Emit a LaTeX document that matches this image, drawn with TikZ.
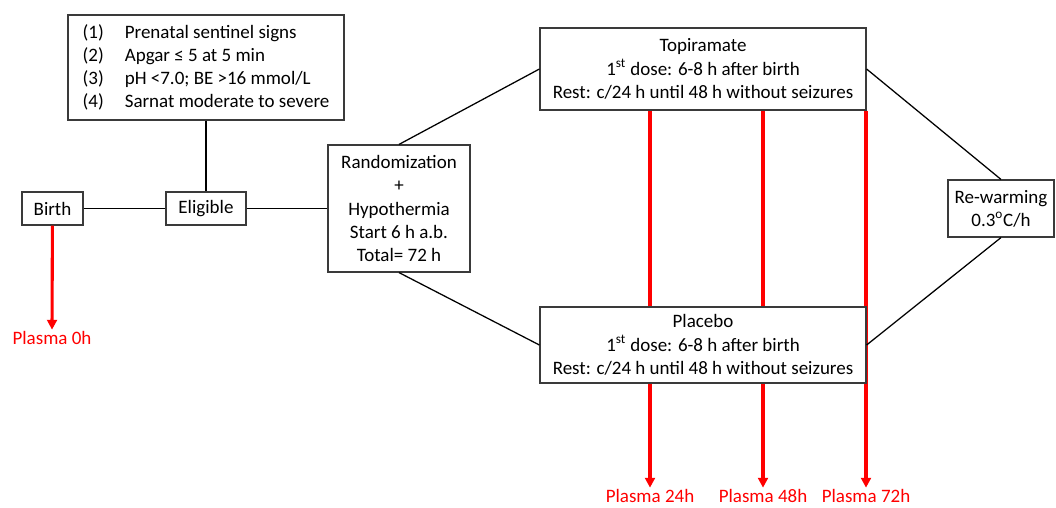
\documentclass[tikz,border=0pt]{standalone}
\usepackage{fontspec}
\setmainfont{Carlito}
\usepackage{tikz}
\usetikzlibrary{arrows.meta, positioning, calc, backgrounds}
\usepackage{xcolor}
\definecolor{boxgray}{HTML}{3A3A3A}
\definecolor{plasmared}{HTML}{FF0000}

\begin{document}
\begin{tikzpicture}[
    x=0.025cm, y=-0.025cm,
    every node/.style={font=\fontsize{13.5}{16.5}\selectfont},
    box/.style={draw=boxgray, fill=white, line width=0.8pt, align=center,
                inner sep=0pt},
    link/.style={line width=0.9pt},
    redarr/.style={-{Triangle[length=7pt, width=7pt]}, plasmared,
                   line width=2.2pt},
    plasma/.style={text=plasmared, inner sep=1pt}
  ]
    \useasboundingbox (0,0) rectangle (1056,507);
    % boxes
    \node[box, minimum width=6.9cm, minimum height=2.625cm, align=left] (crit) at (206,67.5)
      {\fontsize{13.5}{17}\selectfont
       \makebox[30pt][l]{(1)}Prenatal sentinel signs\\
       \makebox[30pt][l]{(2)}Apgar ≤ 5 at 5 min\\
       \makebox[30pt][l]{(3)}pH <7.0; BE >16 mmol/L\\
       \makebox[30pt][l]{(4)}Sarnat moderate to severe};
    \node[box, minimum width=1.525cm, minimum height=0.825cm] (birth) at (52.5,208.5) {Birth};
    \node[box, minimum width=2.0cm, minimum height=0.825cm] (elig) at (206,208.5) {Eligible};
    \node[box, minimum width=3.55cm, minimum height=3.175cm] (rand) at (399,208.5)
      {Randomization\\+\\Hypothermia\\Start 6 h a.b.\\Total= 72 h};
    \node[box, minimum width=8.15cm, minimum height=2.05cm] (topi) at (703,69)
      {Topiramate\\1\textsuperscript{st} dose: 6-8 h after birth\\Rest: c/24 h until 48 h without seizures};
    \node[box, minimum width=8.15cm, minimum height=1.9cm] (plac) at (703,345)
      {Placebo\\1\textsuperscript{st} dose: 6-8 h after birth\\Rest: c/24 h until 48 h without seizures};
    \node[box, minimum width=2.65cm, minimum height=1.425cm] (rewarm) at (1001,208.5)
      {Re-warming\\0.3\textsuperscript{o}C/h};
    % plasma samples
    \node[plasma] (p0) at (52,338) {Plasma 0h};
    \node[plasma] (p24) at (650,496) {Plasma 24h};
    \node[plasma] (p48) at (763,496) {Plasma 48h};
    \node[plasma] (p72) at (866,496) {Plasma 72h};
    % connections
    \draw[link] (crit) -- (elig);
    \draw[link] (birth) -- (elig);
    \draw[link] (elig) -- (elig -| rand.west);
    \draw[link] (rand.north) -- (topi.west);
    \draw[link] (rand.south) -- (plac.west);
    \draw[link] (topi.east) -- (rewarm.north);
    \draw[link] (plac.east) -- (rewarm.south);
    \draw[redarr] (birth) -- (p0.north);
    \begin{scope}[on background layer]
      \draw[redarr] (topi.south -| p24) -- (p24.north);
      \draw[redarr] (topi.south -| p48) -- (p48.north);
      \draw[redarr] (topi.south -| p72) -- (p72.north);
    \end{scope}
  \end{tikzpicture}
\end{document}
